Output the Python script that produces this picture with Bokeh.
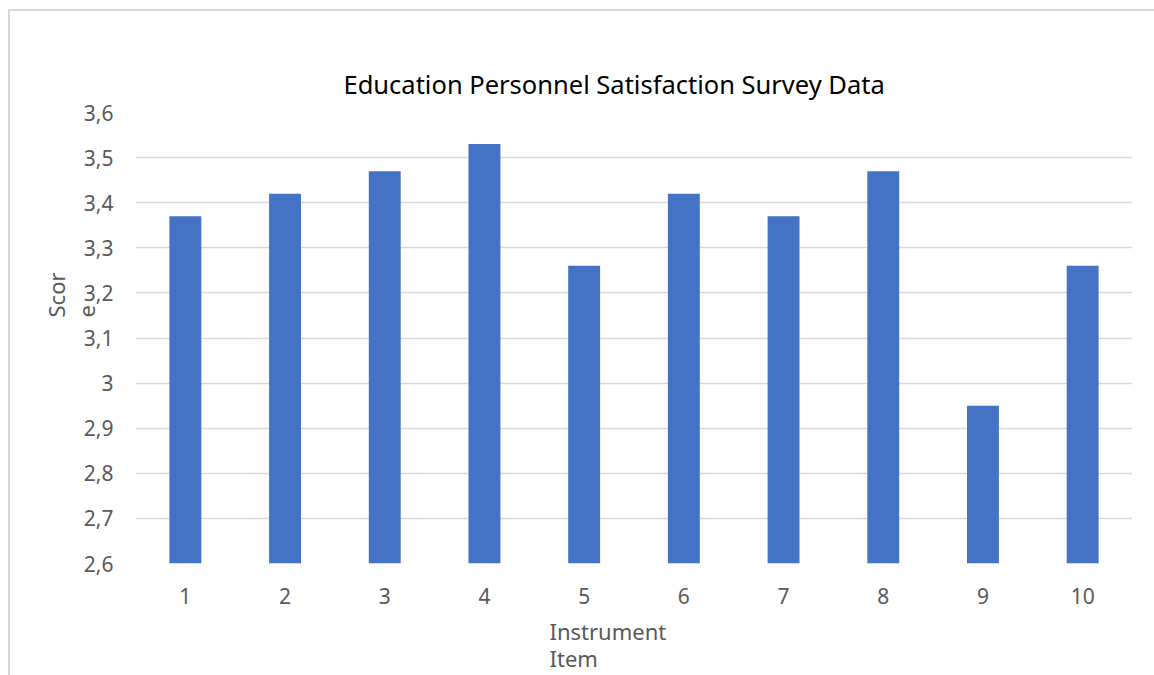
from bokeh.plotting import figure
from bokeh.models import ColumnDataSource, FixedTicker, CustomJSTickFormatter, Title
from bokeh.embed import file_html
from bokeh.resources import INLINE

# ---- data ----
items = [1, 2, 3, 4, 5, 6, 7, 8, 9, 10]
scores = [3.37, 3.42, 3.47, 3.53, 3.26, 3.42, 3.37, 3.47, 2.95, 3.26]
y_ticks = [2.6, 2.7, 2.8, 2.9, 3.0, 3.1, 3.2, 3.3, 3.4, 3.5, 3.6]
y_tick_labels = ["2,6", "2,7", "2,8", "2,9", "3", "3,1", "3,2", "3,3", "3,4", "3,5", "3,6"]
title_text = "Education Personnel Satisfaction Survey Data"
y_title = "Scor\ne"
x_title = "Instrument\nItem"

FONT = "Noto Sans"
GREY = "#595959"
GRID = "#d9d9d9"
BAR = "#4472c4"

src = ColumnDataSource(data=dict(item=items, score=scores, base=[y_ticks[0]] * len(items)))

p = figure(frame_width=997, frame_height=451,
           x_range=(0.5, 10.5), y_range=(y_ticks[0], y_ticks[-1]),
           output_backend="svg", toolbar_location=None,
           min_border_left=125, min_border_right=22, min_border_top=101, min_border_bottom=112,
           title=title_text)
p.margin = (9, 0, 0, 8)
p.styles = {"border-left": "2px solid #d9d9d9", "border-top": "2px solid #d9d9d9"}

p.outline_line_color = None
p.background_fill_color = "white"
p.border_fill_color = "white"

p.title.align = "left"
p.title.offset = 208
p.title.text_font = FONT
p.title.text_font_size = "25.5px"
p.title.text_font_style = "normal"
p.title.text_color = "#000000"
p.title.standoff = 23

p.vbar(x="item", top="score", bottom="base", width=0.32, source=src,
       fill_color=BAR, line_color=None)

# axes
p.xaxis.ticker = FixedTicker(ticks=items)
p.yaxis.ticker = FixedTicker(ticks=y_ticks)
p.yaxis.formatter = CustomJSTickFormatter(args=dict(tvals=y_ticks, tlabels=y_tick_labels), code="""
    let best = 0, bd = 1e9;
    for (let i = 0; i < tvals.length; i++) {
        const d = Math.abs(tvals[i] - tick);
        if (d < bd) { bd = d; best = i; }
    }
    return tlabels[best];
""")
for ax in (p.xaxis[0], p.yaxis[0]):
    ax.axis_line_color = None
    ax.major_tick_line_color = None
    ax.minor_tick_line_color = None
    ax.major_tick_out = 0
    ax.major_tick_in = 0
    ax.major_label_text_font = FONT
    ax.major_label_text_font_size = "21px"
    ax.major_label_text_color = GREY
p.yaxis.major_label_standoff = 22
p.xaxis.major_label_standoff = 24

p.xgrid.grid_line_color = None
p.ygrid.ticker = FixedTicker(ticks=y_ticks)
p.ygrid.grid_line_color = GRID
p.ygrid.grid_line_width = 1.5

# axis titles (wrapped, left-aligned lines as in the reference)
xt = Title(text=x_title, align="left", offset=414, standoff=15,
           text_font=FONT, text_font_size="22px", text_font_style="normal",
           text_color=GREY, text_line_height=0.9)
p.add_layout(xt, "below")
yt = Title(text=y_title, align="left", offset=246, standoff=-41,
           text_font=FONT, text_font_size="22px", text_font_style="normal",
           text_color=GREY, text_line_height=1.0)
p.add_layout(yt, "left")

open("out.html", "w").write(file_html(p, INLINE))
